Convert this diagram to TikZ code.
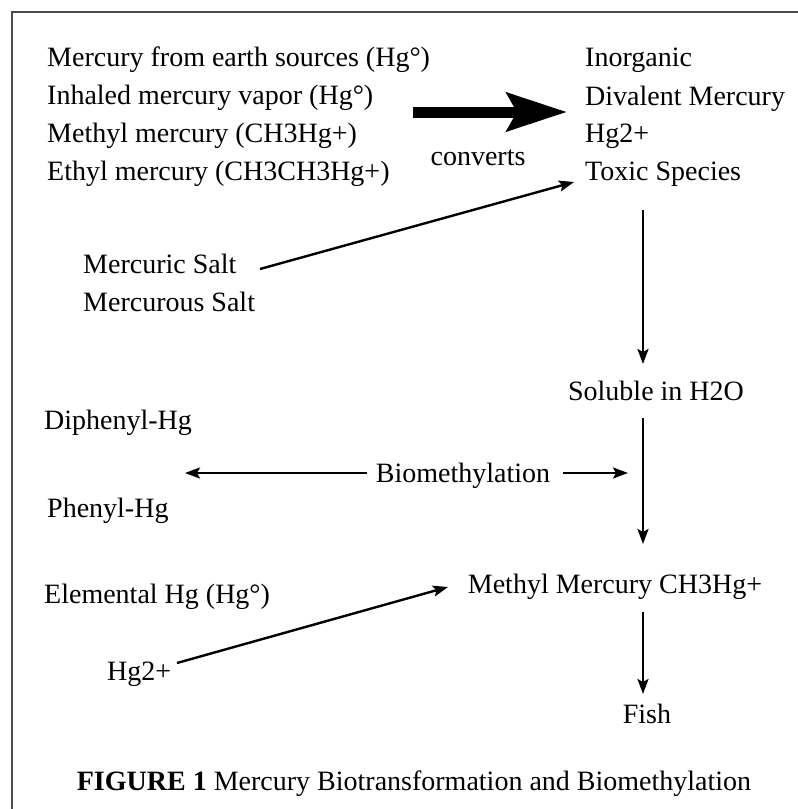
\documentclass[tikz,border=0pt]{standalone}
\usepackage{fontspec}
\setmainfont{Liberation Serif}
\usetikzlibrary{arrows.meta}
\begin{document}
\begin{tikzpicture}[x=1pt,y=-1pt,
  txt/.style={anchor=base west,inner sep=0pt,font=\fontsize{28}{32}\selectfont},
  ctxt/.style={anchor=base,inner sep=0pt,font=\fontsize{28}{32}\selectfont},
  arrowc/.style={line width=2.4pt,-{Stealth[length=15pt,width=11pt,inset=3pt]}},
  frameline/.style={line width=1.4pt,black!70}]
\useasboundingbox (0,0) rectangle (798,809);
\draw[frameline] (12,809) -- (12,12) -- (798,12);
% left source block
\node[txt] (s1) at (47,66) {Mercury from earth sources (Hg°)};
\node[txt] (s2) at (47,104) {Inhaled mercury vapor (Hg°)};
\node[txt] (s3) at (47,142) {Methyl mercury (CH3Hg+)};
\node[txt] (s4) at (47,180) {Ethyl mercury (CH3CH3Hg+)};
% right block
\node[txt] (r1) at (585,66) {Inorganic};
\node[txt] (r2) at (585,105) {Divalent Mercury};
\node[txt] (r3) at (585,142) {Hg2+};
\node[txt] (r4) at (585,180) {Toxic Species};
\node[ctxt] (conv) at (478,165) {converts};
\coordinate (bigA) at (413,112);
\coordinate (bigB) at (567,112);
\draw[line width=11pt,-{Stealth[length=60pt,width=38pt,inset=10pt]}] (bigA) -- (bigB);
% salts
\node[txt] (ms1) at (83,273) {Mercuric Salt};
\node[txt] (ms2) at (83,311) {Mercurous Salt};
\coordinate (saltA) at (260,269);
\coordinate (toxB) at (574,182);
\draw[arrowc] (saltA) -- (toxB);
% main vertical chain
\node[ctxt] (sol) at (656,400) {Soluble in H2O};
\node[ctxt] (mm) at (615,593) {Methyl Mercury CH3Hg+};
\node[ctxt] (fish) at (647,723) {Fish};
\coordinate (v1a) at (643,210);
\coordinate (v1b) at (643,364);
\coordinate (v2a) at (643,418);
\coordinate (v2b) at (643,544);
\coordinate (v3a) at (643,612);
\coordinate (v3b) at (643,694);
\draw[arrowc] (v1a) -- (v1b);
\draw[arrowc] (v2a) -- (v2b);
\draw[arrowc] (v3a) -- (v3b);
% biomethylation
\node[ctxt] (bio) at (463,482) {Biomethylation};
\node[txt] (dph) at (44,429) {Diphenyl-Hg};
\node[txt] (ph) at (47,517) {Phenyl-Hg};
\coordinate (bl) at (185,473);
\coordinate (br) at (628,473);
\coordinate (bla) at (367,473);
\coordinate (bra) at (563,473);
\draw[arrowc] (bla) -- (bl);
\draw[arrowc] (bra) -- (br);
% elemental
\node[txt] (el) at (44,603) {Elemental Hg (Hg°)};
\node[txt] (hg) at (107,680) {Hg2+};
\coordinate (hgA) at (177,663);
\coordinate (mmB) at (448,587);
\draw[arrowc] (hgA) -- (mmB);
% caption
\node[ctxt] (cap) at (414,790) {\textbf{FIGURE 1} Mercury Biotransformation and Biomethylation};
\end{tikzpicture}
\end{document}
